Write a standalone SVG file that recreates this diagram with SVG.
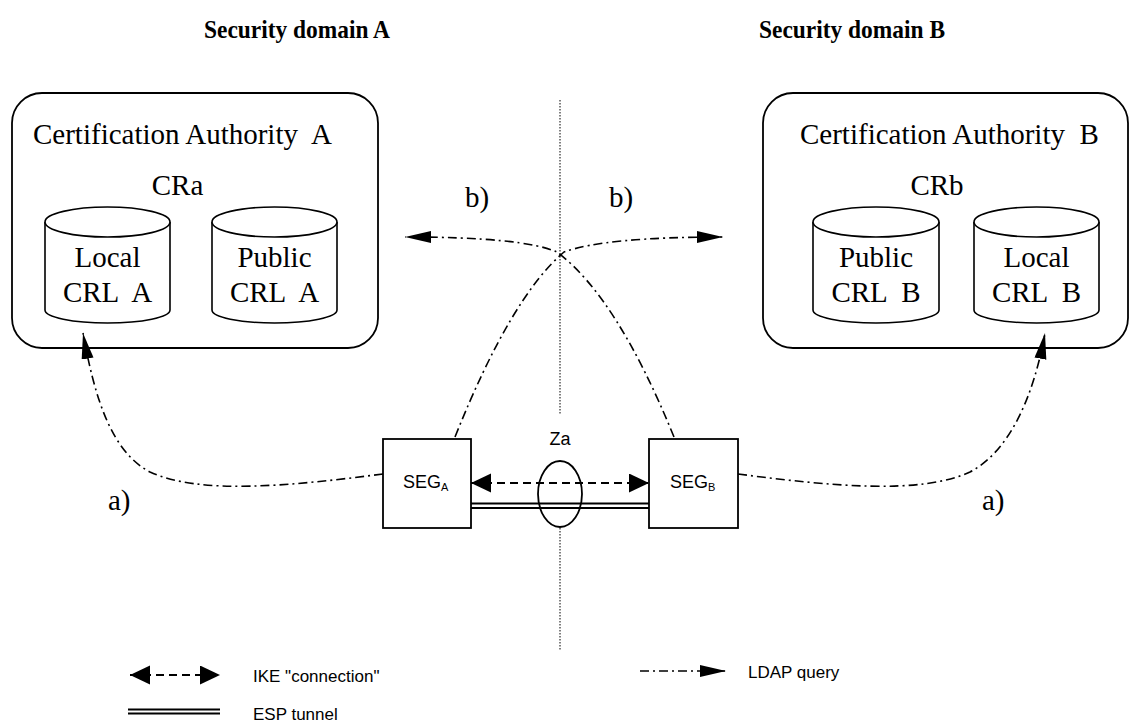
<svg xmlns="http://www.w3.org/2000/svg" width="1130" height="724" viewBox="0 0 1130 724">
<style>
.serif{font-family:"Liberation Serif","Times New Roman",serif;font-size:29px;fill:#000}
.title{font-family:"Liberation Serif","Times New Roman",serif;font-size:25px;font-weight:bold;fill:#000}
.sans{font-family:"Liberation Sans",Arial,sans-serif;font-size:18px;fill:#000}
.leg{font-family:"Liberation Sans",Arial,sans-serif;font-size:17px;fill:#000}
.box{fill:#fff;stroke:#000;stroke-width:1.8}
.cyl{fill:#fff;stroke:#000;stroke-width:1.6}
.ldap{fill:none;stroke:#000;stroke-width:1.6;stroke-dasharray:9 4 2 4}
.ike{fill:none;stroke:#000;stroke-width:2;stroke-dasharray:8 5}
.esp{fill:none;stroke:#000;stroke-width:2}
.dot{fill:none;stroke:#000;stroke-width:1;stroke-dasharray:1.5 1.5}
</style>
<defs>
<marker id="arrL" markerUnits="userSpaceOnUse" markerWidth="28" markerHeight="14" refX="26" refY="6" orient="auto">
<path d="M0,0 L26,6 L0,12 z" fill="#000"/>
</marker>
<marker id="arrI" markerUnits="userSpaceOnUse" markerWidth="22" markerHeight="20" refX="20" refY="9.5" orient="auto-start-reverse">
<path d="M0,0 L20,9.5 L0,19 z" fill="#000"/>
</marker>
</defs>

<g id="titles">
<text class="title" x="297" y="38" text-anchor="middle" textLength="186" lengthAdjust="spacingAndGlyphs">Security domain A</text>
<text class="title" x="852" y="38" text-anchor="middle" textLength="186" lengthAdjust="spacingAndGlyphs">Security domain B</text>
</g>

<g id="ca-a">
<rect class="box" x="12" y="93" width="366" height="255" rx="30" ry="30"/>
<text class="serif" x="33" y="144" xml:space="preserve">Certification Authority  A</text>
<text class="serif" x="177.5" y="195" text-anchor="middle">CRa</text>
</g>
<g id="local-crl-a">
<path class="cyl" d="M45,222 L45,310 A62.5,13 0 0 0 170,310 L170,222"/>
<ellipse class="cyl" cx="107.5" cy="222" rx="62.5" ry="15"/>
<text class="serif" x="107.5" y="267" text-anchor="middle">Local</text>
<text class="serif" x="107.5" y="302" text-anchor="middle" xml:space="preserve">CRL  A</text>
</g>
<g id="public-crl-a">
<path class="cyl" d="M212,222 L212,310 A62.5,13 0 0 0 337,310 L337,222"/>
<ellipse class="cyl" cx="274.5" cy="222" rx="62.5" ry="15"/>
<text class="serif" x="274.5" y="267" text-anchor="middle">Public</text>
<text class="serif" x="274.5" y="302" text-anchor="middle" xml:space="preserve">CRL  A</text>
</g>

<g id="ca-b">
<rect class="box" x="763" y="93" width="365" height="255" rx="30" ry="30"/>
<text class="serif" x="800" y="144" xml:space="preserve">Certification Authority  B</text>
<text class="serif" x="937" y="195" text-anchor="middle">CRb</text>
</g>
<g id="public-crl-b">
<path class="cyl" d="M813,222 L813,310 A63,13 0 0 0 939,310 L939,222"/>
<ellipse class="cyl" cx="876" cy="222" rx="63" ry="15"/>
<text class="serif" x="876" y="267" text-anchor="middle">Public</text>
<text class="serif" x="876" y="302" text-anchor="middle" xml:space="preserve">CRL  B</text>
</g>
<g id="local-crl-b">
<path class="cyl" d="M974,222 L974,310 A62.5,13 0 0 0 1099,310 L1099,222"/>
<ellipse class="cyl" cx="1036.5" cy="222" rx="62.5" ry="15"/>
<text class="serif" x="1036.5" y="267" text-anchor="middle">Local</text>
<text class="serif" x="1036.5" y="302" text-anchor="middle" xml:space="preserve">CRL  B</text>
</g>

<g id="boundary">
<line class="dot" x1="560" y1="100" x2="560" y2="415"/>
<line class="dot" x1="560" y1="528" x2="560" y2="650"/>
</g>

<g id="connectors">
<path class="ldap" d="M455,437 Q511,297 564,252 Q605,237 723,237" marker-end="url(#arrL)"/>
<path class="ldap" d="M674,437 Q617,297 557,252 Q523,237 405,237" marker-end="url(#arrL)"/>
<path class="ldap" d="M383,474 C290,486 200,495 150,472 C112,452 95,400 83,333" marker-end="url(#arrL)"/>
<path class="ldap" d="M738,474 C830,486 920,495 970,472 C1008,452 1033,400 1045,333" marker-end="url(#arrL)"/>
<line class="ike" x1="471" y1="483" x2="649" y2="483" marker-start="url(#arrI)" marker-end="url(#arrI)"/>
<line class="esp" x1="471" y1="503.5" x2="649" y2="503.5"/>
<line class="esp" x1="471" y1="508" x2="649" y2="508"/>
</g>

<g id="seg-a">
<rect class="box" x="383" y="439" width="88" height="89"/>
<text class="sans" x="403" y="488">SEG<tspan font-size="11" dy="3">A</tspan></text>
</g>
<g id="seg-b">
<rect class="box" x="649" y="439" width="89" height="89"/>
<text class="sans" x="670" y="488">SEG<tspan font-size="11" dy="3">B</tspan></text>
</g>

<g id="za">
<ellipse cx="560" cy="494" rx="22" ry="33" fill="none" stroke="#000" stroke-width="1.8"/>
<text class="sans" x="560" y="445" text-anchor="middle">Za</text>
</g>

<g id="labels">
<text class="serif" x="465" y="207">b)</text>
<text class="serif" x="609" y="207">b)</text>
<text class="serif" x="108" y="510">a)</text>
<text class="serif" x="982" y="510">a)</text>
</g>

<g id="legend">
<line class="ike" x1="130" y1="675" x2="220" y2="675" marker-start="url(#arrI)" marker-end="url(#arrI)"/>
<text class="leg" x="253" y="682">IKE "connection"</text>
<line class="esp" x1="128" y1="709.5" x2="220" y2="709.5"/>
<line class="esp" x1="128" y1="713.5" x2="220" y2="713.5"/>
<text class="leg" x="253" y="720">ESP tunnel</text>
<path class="ldap" d="M640,671 L726,671" marker-end="url(#arrL)"/>
<text class="leg" x="748" y="678">LDAP query</text>
</g>
</svg>
